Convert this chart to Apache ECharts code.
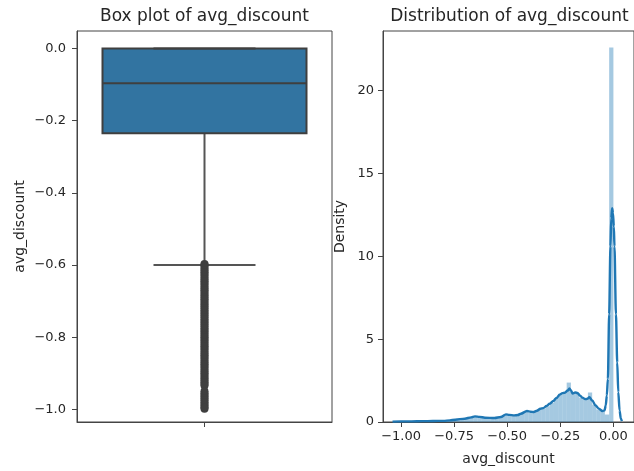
<!DOCTYPE html>
<html>
<head>
<meta charset="utf-8">
<script src="https://cdn.jsdelivr.net/npm/echarts@6/dist/echarts.min.js"></script>
<style>html,body{margin:0;padding:0;background:#fff}#c{width:634px;height:471px}</style>
</head>
<body>
<div id="c"></div>
<script>
// ---- data ----
const titles = ['Box plot of avg_discount', 'Distribution of avg_discount'];
const boxCategories = ['avg_discount'];
// [lower whisker, Q1, median, Q3, upper whisker]
const boxStats = [[-0.6, -0.235, -0.096, 0.0, 0.0]];
const outliers = [-0.597, -0.600, -0.605, -0.610, -0.615, -0.620, -0.625, -0.630, -0.635, -0.640,
  -0.645, -0.650, -0.655, -0.660, -0.665, -0.670, -0.675, -0.680, -0.685, -0.690,
  -0.695, -0.700, -0.705, -0.710, -0.715, -0.720, -0.725, -0.730, -0.735, -0.740,
  -0.745, -0.750, -0.755, -0.760, -0.765, -0.770, -0.775, -0.780, -0.785, -0.790,
  -0.795, -0.800, -0.805, -0.810, -0.815, -0.820, -0.825, -0.830, -0.835, -0.840,
  -0.845, -0.850, -0.855, -0.860, -0.865, -0.870, -0.875, -0.880, -0.885, -0.890,
  -0.895, -0.900, -0.905, -0.910, -0.915, -0.920, -0.925, -0.930, -0.934,
  -0.950, -0.955, -0.960, -0.965, -0.970, -0.975, -0.980, -0.985, -0.990, -0.995, -0.998];
const boxTicks = [0.0, -0.2, -0.4, -0.6, -0.8, -1.0];

const histX = [-0.99, -0.97, -0.95, -0.93, -0.91, -0.89, -0.87, -0.85, -0.83, -0.81,
  -0.79, -0.77, -0.75, -0.73, -0.71, -0.69, -0.67, -0.65, -0.63, -0.61,
  -0.59, -0.57, -0.55, -0.53, -0.51, -0.49, -0.47, -0.45, -0.43, -0.41,
  -0.39, -0.37, -0.35, -0.33, -0.31, -0.29, -0.27, -0.25, -0.23, -0.21,
  -0.19, -0.17, -0.15, -0.13, -0.11, -0.09, -0.07, -0.05, -0.03, -0.01];
const histY = [0.06, 0.03, 0.04, 0.04, 0.05, 0.05, 0.06, 0.07, 0.08, 0.09,
  0.10, 0.12, 0.14, 0.17, 0.20, 0.22, 0.30, 0.36, 0.30, 0.27,
  0.25, 0.24, 0.26, 0.30, 0.45, 0.42, 0.38, 0.42, 0.50, 0.62,
  0.55, 0.65, 0.78, 0.80, 0.95, 1.15, 1.45, 1.70, 1.80, 2.38,
  1.75, 1.72, 1.45, 1.35, 1.78, 1.05, 0.75, 0.70, 0.45, 22.6];

const kdeX = [-1.04, -1.0, -0.95, -0.9, -0.85, -0.8, -0.77, -0.745, -0.7, -0.67,
  -0.652, -0.63, -0.605, -0.56, -0.53, -0.506, -0.49, -0.467, -0.45, -0.436,
  -0.407, -0.39, -0.375, -0.36, -0.344, -0.33, -0.315, -0.3, -0.283, -0.268,
  -0.253, -0.24, -0.229, -0.215, -0.207, -0.2, -0.192, -0.18, -0.169, -0.158,
  -0.146, -0.133, -0.123, -0.113, -0.1, -0.084, -0.068, -0.052, -0.042, -0.036,
  -0.031, -0.026, -0.02, -0.014, -0.01, -0.006, -0.002, 0.002, 0.005, 0.012,
  0.018, 0.023, 0.029, 0.035, 0.04];
const kdeY = [0.02, 0.04, 0.04, 0.05, 0.06, 0.07, 0.10, 0.14, 0.20, 0.28,
  0.34, 0.31, 0.26, 0.24, 0.30, 0.46, 0.43, 0.40, 0.42, 0.50,
  0.66, 0.62, 0.60, 0.68, 0.80, 0.84, 0.97, 1.10, 1.27, 1.45,
  1.65, 1.74, 1.77, 1.90, 2.02, 1.90, 1.72, 1.78, 1.75, 1.60,
  1.47, 1.38, 1.40, 1.50, 1.30, 1.00, 0.80, 0.66, 0.70, 1.00,
  1.60, 2.60, 6.50, 10.6, 12.3, 12.9, 12.6, 11.8, 10.6, 6.5,
  3.6, 1.8, 0.7, 0.2, 0.05];
const distXTicks = [-1.0, -0.75, -0.5, -0.25, 0.0];
const distYTicks = [0, 5, 10, 15, 20];

// ---- chart ----
const FONT = 'DejaVu Sans';
const TXT = '#262626';
const SPINE = '#444';
const BOX_EDGE = '#3f3f3f';
const fmt = d => v => (v < -1e-9 ? '\u2212' : '') + Math.abs(v).toFixed(d);

const chart = echarts.init(document.getElementById('c'), null, {renderer: 'canvas'});
const lineCommon = {show: true, onZero: false, lineStyle: {color: SPINE, width: 1}};
const nameStyle = {fontFamily: FONT, fontSize: 14, color: TXT};

chart.setOption({
  animation: false,
  backgroundColor: '#fff',
  title: [
    {text: titles[0], left: 204.5, top: 8, textAlign: 'center', padding: 0,
     textStyle: {fontFamily: FONT, fontSize: 17, fontWeight: 'normal', color: TXT}},
    {text: titles[1], left: 509.5, top: 8, textAlign: 'center', padding: 0,
     textStyle: {fontFamily: FONT, fontSize: 17, fontWeight: 'normal', color: TXT}}
  ],
  grid: [
    {left: 77, top: 31, width: 255, height: 391, show: true, borderColor: SPINE, borderWidth: 1},
    {left: 383, top: 31, width: 256, height: 391, show: true, borderColor: SPINE, borderWidth: 1}
  ],
  xAxis: [
    {
      type: 'category', gridIndex: 0, data: boxCategories,
      axisLine: lineCommon, splitLine: {show: false},
      axisTick: {show: true, length: 5, alignWithLabel: true, lineStyle: {color: SPINE}},
      axisLabel: {show: false}
    },
    {
      type: 'value', gridIndex: 1, min: -1.085, max: 0.097,
      axisLine: lineCommon, splitLine: {show: false},
      name: 'avg_discount', nameLocation: 'middle', nameGap: 30, nameTextStyle: nameStyle,
      axisTick: {show: true, length: 5, lineStyle: {color: SPINE}, customValues: distXTicks},
      axisLabel: {customValues: distXTicks, formatter: fmt(2), fontFamily: FONT, fontSize: 13, color: TXT, margin: 8}
    }
  ],
  yAxis: [
    {
      type: 'value', gridIndex: 0, min: -1.035, max: 0.0485,
      axisLine: lineCommon, splitLine: {show: false},
      name: 'avg_discount', nameLocation: 'middle', nameGap: 50, nameTextStyle: nameStyle,
      axisTick: {show: true, length: 5, lineStyle: {color: SPINE}, customValues: boxTicks},
      axisLabel: {customValues: boxTicks, formatter: fmt(1), fontFamily: FONT, fontSize: 13, color: TXT, margin: 11}
    },
    {
      type: 'value', gridIndex: 1, min: 0, max: 23.6,
      axisLine: lineCommon, splitLine: {show: false},
      name: 'Density', nameLocation: 'middle', nameGap: 36, nameTextStyle: nameStyle,
      axisTick: {show: true, length: 5, lineStyle: {color: SPINE}, customValues: distYTicks},
      axisLabel: {customValues: distYTicks, formatter: v => String(v), fontFamily: FONT, fontSize: 13, color: TXT, margin: 9}
    }
  ],
  series: [
    {
      type: 'custom', xAxisIndex: 0, yAxisIndex: 0,
      data: boxStats.map((s, i) => [i].concat(s)),
      renderItem: function (params, api) {
        const c = api.value(0);
        const lo = api.coord([c, api.value(1)]);
        const q1 = api.coord([c, api.value(2)]);
        const md = api.coord([c, api.value(3)]);
        const q3 = api.coord([c, api.value(4)]);
        const hi = api.coord([c, api.value(5)]);
        const band = api.size([1, 0])[0];
        const bw = band * 0.8, cw = bw / 2, cx = md[0];
        const ws = {stroke: '#555', lineWidth: 2};
        const es = {stroke: BOX_EDGE, lineWidth: 2};
        return {type: 'group', children: [
          {type: 'line', shape: {x1: cx, y1: q1[1], x2: cx, y2: lo[1]}, style: ws},
          {type: 'line', shape: {x1: cx, y1: q3[1], x2: cx, y2: hi[1]}, style: ws},
          {type: 'line', shape: {x1: cx - cw / 2, y1: lo[1], x2: cx + cw / 2, y2: lo[1]}, style: ws},
          {type: 'rect', shape: {x: cx - bw / 2, y: q3[1], width: bw, height: q1[1] - q3[1]},
           style: {fill: '#3274a1', stroke: BOX_EDGE, lineWidth: 2}},
          {type: 'line', shape: {x1: cx - bw / 2, y1: md[1], x2: cx + bw / 2, y2: md[1]}, style: es},
          {type: 'line', shape: {x1: cx - cw / 2, y1: hi[1], x2: cx + cw / 2, y2: hi[1]}, style: es}
        ]};
      },
      z: 2
    },
    {
      type: 'scatter', xAxisIndex: 0, yAxisIndex: 0,
      data: outliers.map(v => [0, v]),
      symbol: 'circle', symbolSize: 8,
      itemStyle: {color: BOX_EDGE, opacity: 1},
      z: 3
    },
    {
      type: 'custom', xAxisIndex: 1, yAxisIndex: 1,
      data: histX.map((x, i) => [x, histY[i]]),
      renderItem: function (params, api) {
        const x = api.value(0), h = api.value(1);
        const p0 = api.coord([x - 0.01, 0]);
        const p1 = api.coord([x + 0.01, h]);
        return {type: 'rect', shape: {x: p0[0], y: p1[1], width: p1[0] - p0[0], height: p0[1] - p1[1]},
                style: {fill: 'rgba(31,119,180,0.4)'}};
      },
      z: 2
    },
    {
      type: 'line', xAxisIndex: 1, yAxisIndex: 1,
      data: kdeX.map((x, i) => [x, kdeY[i]]),
      showSymbol: false, smooth: 0.3, smoothMonotone: 'x',
      lineStyle: {color: '#1f77b4', width: 2.4},
      z: 3
    }
  ]
});
</script>
</body>
</html>
